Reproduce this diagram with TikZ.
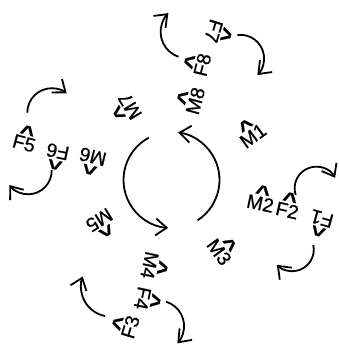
\documentclass[tikz,border=0pt]{standalone}
\usepackage{fontspec}
\setmainfont{Liberation Sans}
\newfontfamily\tagfont{Liberation Sans}[FakeBold=0.7]
\usetikzlibrary{arrows.meta}

\newcommand{\hatmark}{\raisebox{-6pt}[4pt][0pt]{\scalebox{1.3}[1.05]{\bfseries\char94}}}
\newcommand{\hatlbl}[1]{\shortstack{\hatmark\\#1}}

\begin{document}
\begin{tikzpicture}[
    x=1pt, y=1pt,
    tag/.style={inner sep=0pt, font=\tagfont\fontsize{19.5}{22}\selectfont},
    spin/.style={line width=1.8pt, -{Straight Barb[length=11pt,width=17pt]}}
]
\useasboundingbox (0,0) rectangle (339,349);

% motor labels
\node[tag, rotate=36] (m1) at (251,216) {\hatlbl{M1}};
\node[tag, rotate=-12] (m2) at (261,149) {\hatlbl{M2}};
\node[tag, rotate=-54] (m3) at (222,99) {\hatlbl{M3}};
\node[tag, rotate=-102] (m4) at (153,83) {\hatlbl{M4}};
\node[tag, rotate=-148] (m5) at (101,126) {\hatlbl{M5}};
\node[tag, rotate=166] (m6) at (92,189) {\hatlbl{M6}};
\node[tag, rotate=121] (m7) at (127,241) {\hatlbl{M7}};
\node[tag, rotate=75] (m8) at (192,249) {\hatlbl{M8}};

% rotor labels
\node[tag, rotate=164] (f1) at (321,127) {\hatlbl{F1}};
\node[tag, rotate=-13] (f2) at (288,142) {\hatlbl{F2}};
\node[tag, rotate=73] (f3) at (127,23) {\hatlbl{F3}};
\node[tag, rotate=-102] (f4) at (146,50) {\hatlbl{F4}};
\node[tag, rotate=-15] (f5) at (25,209) {\hatlbl{F5}};
\node[tag, rotate=168] (f6) at (57,194) {\hatlbl{F6}};
\node[tag, rotate=-107] (f7) at (217,317) {\hatlbl{F7}};
\node[tag, rotate=76] (f8) at (199,285) {\hatlbl{F8}};

% centre rotation
\coordinate (c0) at (171.5,169);
\draw[spin] (c0) ++(118:48) arc[start angle=118, end angle=266, radius=48];
\draw[spin] (c0) ++(-57:48) arc[start angle=-57, end angle=82, radius=48];

% spin at F1
\coordinate (r1a) at (316.2,160.7);
\coordinate (r1b) at (292.2,99.4);
\draw[spin] (r1a) ++(198:21.6) arc[start angle=198, end angle=29, radius=21.6];
\draw[spin] (r1b) ++(12:21.6) arc[start angle=12, end angle=-135, radius=21.6];

% spin at F7
\coordinate (r7a) at (187,317.2);
\coordinate (r7b) at (240.4,290.5);
\draw[spin] (r7a) ++(251:26.4) arc[start angle=251, end angle=135, radius=26.4];
\draw[spin] (r7b) ++(97.5:23.7) arc[start angle=97.5, end angle=-44.3, radius=23.7];

% spin at F5
\coordinate (r5a) at (51.8,236.3);
\coordinate (r5b) at (28.1,178.3);
\draw[spin] (r5a) ++(180:24.5) arc[start angle=180, end angle=52.5, radius=24.5];
\draw[spin] (r5b) ++(1.7:23.6) arc[start angle=1.7, end angle=-142.7, radius=23.6];

% spin at F3
\coordinate (r3a) at (110.8,62.3);
\coordinate (r3b) at (158.6,22.9);
\draw[spin] (r3a) ++(-101:29.9) arc[start angle=-101, end angle=-200, radius=29.9];
\draw[spin] (r3b) ++(73:25.5) arc[start angle=73, end angle=-42.6, radius=25.5];

\end{tikzpicture}
\end{document}
